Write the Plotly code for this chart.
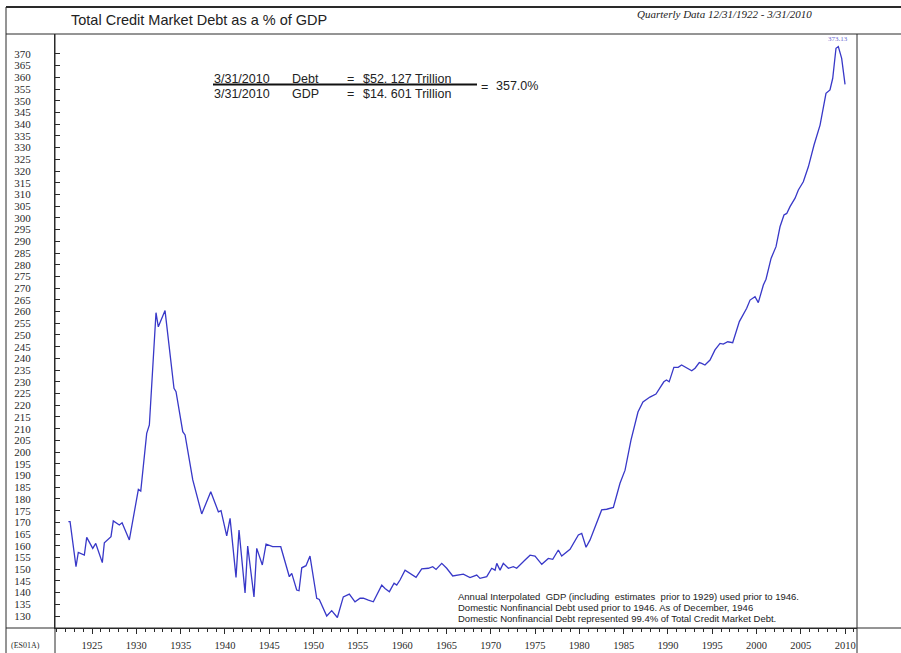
import plotly.graph_objects as go

# ---- data ----
years = [
    1922.33, 1922.52, 1923.19, 1923.45, 1924.13, 1924.40, 1925.08, 1925.42, 1926.16, 1926.39,
    1927.14, 1927.40, 1928.08, 1928.39, 1929.21, 1930.23, 1930.50, 1931.17, 1931.47, 1932.22,
    1932.48, 1933.24, 1934.25, 1934.48, 1935.24, 1935.50, 1936.37, 1937.38, 1938.40, 1939.26,
    1939.56, 1940.20, 1940.58, 1941.25, 1941.59, 1942.27, 1942.57, 1943.28, 1943.59, 1944.22,
    1944.64, 1945.39, 1946.30, 1947.27, 1947.54, 1948.10, 1948.36, 1948.67, 1949.15, 1949.60,
    1950.36, 1950.65, 1951.49, 1952.05, 1952.69, 1953.36, 1954.04, 1954.68, 1955.25, 1955.62,
    1956.19, 1956.75, 1957.70, 1958.07, 1958.56, 1959.09, 1959.39, 1959.76, 1960.33, 1960.89,
    1961.57, 1962.21, 1962.96, 1963.45, 1963.83, 1964.47, 1965.03, 1965.71, 1966.34, 1966.91,
    1967.66, 1968.42, 1968.79, 1969.55, 1970.11, 1970.49, 1970.68, 1971.05, 1971.42, 1971.99,
    1972.55, 1972.93, 1973.87, 1974.44, 1975.00, 1975.76, 1976.50, 1977.00, 1977.63, 1978.01,
    1978.95, 1979.89, 1980.27, 1980.76, 1981.21, 1981.96, 1982.52, 1983.09, 1983.84, 1984.59,
    1985.16, 1985.83, 1986.62, 1987.18, 1987.97, 1988.65, 1989.09, 1989.54, 1989.84, 1990.14,
    1990.67, 1991.16, 1991.54, 1992.10, 1992.69, 1993.06, 1993.54, 1993.81, 1994.18, 1994.75,
    1995.31, 1995.88, 1996.25, 1996.75, 1997.31, 1998.06, 1998.89, 1999.27, 1999.83, 2000.20,
    2000.77, 2001.07, 2001.64, 2002.20, 2002.65, 2003.10, 2003.41, 2003.78, 2004.35, 2004.72,
    2005.28, 2005.85, 2006.49, 2007.17, 2007.84, 2008.29, 2008.60, 2008.97, 2009.23, 2009.61,
    2009.99,
]
debt_pct_gdp = [
    170.3, 170.3, 151.1, 157.2, 156.0, 163.6, 158.9, 161.0, 152.8, 161.3,
    163.9, 170.6, 168.9, 169.8, 162.5, 184.1, 183.4, 208.0, 211.6, 259.5,
    253.5, 260.4, 227.2, 225.8, 208.7, 207.3, 188.1, 173.6, 183.1, 174.5,
    175.0, 164.2, 171.7, 146.5, 166.7, 139.9, 159.9, 138.2, 158.9, 151.8,
    160.7, 159.6, 159.6, 146.8, 148.2, 141.1, 140.8, 150.6, 151.5, 155.6,
    137.6, 137.1, 130.0, 132.3, 129.4, 138.2, 139.4, 136.1, 137.6, 137.6,
    136.8, 136.1, 143.2, 141.8, 140.4, 144.0, 143.2, 145.4, 149.6, 148.2,
    146.5, 150.1, 150.4, 151.1, 149.9, 152.5, 150.4, 147.1, 147.5, 147.9,
    146.4, 147.5, 146.1, 146.8, 150.4, 149.6, 152.5, 149.6, 152.5, 150.4,
    151.1, 150.4, 153.9, 156.0, 155.6, 152.1, 154.6, 154.2, 158.2, 155.6,
    158.5, 164.6, 165.3, 159.4, 162.5, 169.6, 175.3, 175.6, 176.4, 186.7,
    192.3, 205.1, 217.1, 221.4, 223.5, 224.8, 227.2, 230.0, 230.8, 230.0,
    236.2, 236.2, 237.2, 235.8, 234.7, 235.8, 238.2, 237.9, 237.2, 239.3,
    243.6, 246.4, 246.1, 247.1, 246.7, 255.7, 261.4, 264.9, 266.3, 263.8,
    271.3, 273.8, 282.7, 287.7, 296.2, 301.2, 301.9, 304.8, 308.4, 311.9,
    315.4, 321.8, 331.1, 339.6, 353.2, 354.6, 359.6, 372.4, 373.13, 368.1,
    357.0,
]
peak_year = 2009.23
peak_value = 373.13

x_tick_years = [1925, 1930, 1935, 1940, 1945, 1950, 1955, 1960, 1965, 1970,
                1975, 1980, 1985, 1990, 1995, 2000, 2005, 2010]
y_tick_values = [130, 135, 140, 145, 150, 155, 160, 165, 170, 175, 180, 185, 190,
                 195, 200, 205, 210, 215, 220, 225, 230, 235, 240, 245, 250, 255,
                 260, 265, 270, 275, 280, 285, 290, 295, 300, 305, 310, 315, 320,
                 325, 330, 335, 340, 345, 350, 355, 360, 365, 370]

title_text = "Total Credit Market Debt as a % of GDP"
subtitle_text = "Quarterly Data 12/31/1922 - 3/31/2010"
note_lines = [
    "Annual Interpolated&nbsp; GDP (including&nbsp; estimates&nbsp; prior to 1929) used prior to 1946.",
    "Domestic Nonfinancial Debt used prior to 1946. As of December, 1946",
    "Domestic Nonfinancial Debt represented 99.4% of Total Credit Market Debt.",
]

# ---- geometry helpers (pixels -> paper) ----
W, H = 901, 653
ML, MR, MT, MB = 55, 44, 34, 25
PW, PH = W - ML - MR, H - MT - MB


def px(x):
    return (x - ML) / PW


def py(y):
    return (H - MB - y) / PH


INK = "#2a2a2a"
SERIF = "Liberation Serif"
SANS = "Liberation Sans"

fig = go.Figure()
fig.add_trace(go.Scatter(
    x=years, y=debt_pct_gdp, mode="lines",
    line=dict(color="#3838c8", width=1.3),
    showlegend=False, hoverinfo="x+y",
))

fig.update_layout(
    width=W, height=H, autosize=False,
    margin=dict(l=ML, r=MR, t=MT, b=MB, pad=0, autoexpand=False),
    paper_bgcolor="white", plot_bgcolor="white",
    showlegend=False,
    xaxis=dict(
        range=[1920.82, 2011.34], tickvals=x_tick_years, automargin=False,
        ticks="outside", ticklen=5, tickcolor=INK, tickwidth=1,
        minor=dict(dtick=1, tick0=1925, ticks="outside", ticklen=3, tickcolor=INK),
        showline=True, linecolor=INK, linewidth=1,
        showgrid=False, zeroline=False,
        tickfont=dict(family=SERIF, size=10.5, color=INK),
        ticklabelstandoff=2,
    ),
    yaxis=dict(
        range=[124.9, 378.5], tickvals=y_tick_values, automargin=False,
        ticks="inside", ticklen=5, tickcolor=INK,
        showline=True, linecolor=INK, linewidth=1,
        showgrid=False, zeroline=False,
        tickfont=dict(family=SERIF, size=11, color=INK),
        ticklabelstandoff=21,
    ),
    yaxis2=dict(
        range=[124.9, 378.5], tickvals=y_tick_values, overlaying="y", side="right",
        automargin=False,
        ticks="inside", ticklen=5, tickcolor=INK,
        showline=True, linecolor=INK, linewidth=1,
        showgrid=False, zeroline=False,
        tickfont=dict(family=SERIF, size=11, color=INK),
        ticklabelstandoff=16,
    ),
)

# frame lines
line_style = dict(color=INK, width=1)
shapes = [
    dict(type="line", xref="paper", yref="paper", x0=px(6), x1=px(W), y0=py(7), y1=py(7),
         line=dict(color=INK, width=2)),
    dict(type="line", xref="paper", yref="paper", x0=px(6), x1=px(W), y0=1, y1=1, line=line_style),
    dict(type="line", xref="paper", yref="paper", x0=px(6), x1=px(W), y0=0, y1=0, line=line_style),
    dict(type="line", xref="paper", yref="paper", x0=px(6), x1=px(6), y0=py(7), y1=py(H), line=line_style),
    dict(type="line", xref="paper", yref="paper", x0=0, x1=0, y0=1, y1=py(H), line=line_style),
    dict(type="line", xref="paper", yref="paper", x0=1, x1=1, y0=1, y1=py(H), line=line_style),
    # fraction bar
    dict(type="line", xref="paper", yref="paper", x0=px(213), x1=px(477), y0=py(84.5), y1=py(84.5),
         line=dict(color="#111111", width=2)),
]
fig.update_layout(shapes=shapes)

ann = []


def text(x, y, s, size, family=SANS, color="#222222", xanchor="left", **kw):
    ann.append(dict(x=px(x), y=py(y), xref="paper", yref="paper", text=s, showarrow=False,
                    xanchor=xanchor, yanchor="middle", font=dict(family=family, size=size, color=color), **kw))


text(69, 20, title_text, 14.5)
text(724, 14, "<i>" + subtitle_text + "</i>", 11, family=SERIF, xanchor="center")

# fraction annotation
FS = 12.5
text(212, 79, "3/31/2010", FS)
text(290, 79, "Debt", FS)
text(350, 79, "=", FS, xanchor="center")
text(361, 79, "$52. 127", FS)
text(413, 79, "Trillion", FS)
text(212, 94, "3/31/2010", FS)
text(290, 94, "GDP", FS)
text(350, 94, "=", FS, xanchor="center")
text(361, 94, "$14. 601", FS)
text(413, 94, "Trillion", FS)
text(484, 87, "=", FS, xanchor="center")
text(494, 86, "357.0%", FS)

for i, s in enumerate(note_lines):
    text(456, 596 + 11 * i, s, 9.5)

text(9, 645, "(ES01A)", 8, family=SERIF, color=INK)

ann.append(dict(x=peak_year, y=peak_value, xref="x", yref="y", text=f"{peak_value:.2f}",
                showarrow=False, yanchor="bottom", yshift=2,
                font=dict(family=SERIF, size=7, color="#6a6ad0")))

fig.update_layout(annotations=ann)

fig.write_html(
    "out.html",
    config={"displayModeBar": False},
    post_script="document.body.style.margin='0px';document.body.style.overflow='hidden';",
)
